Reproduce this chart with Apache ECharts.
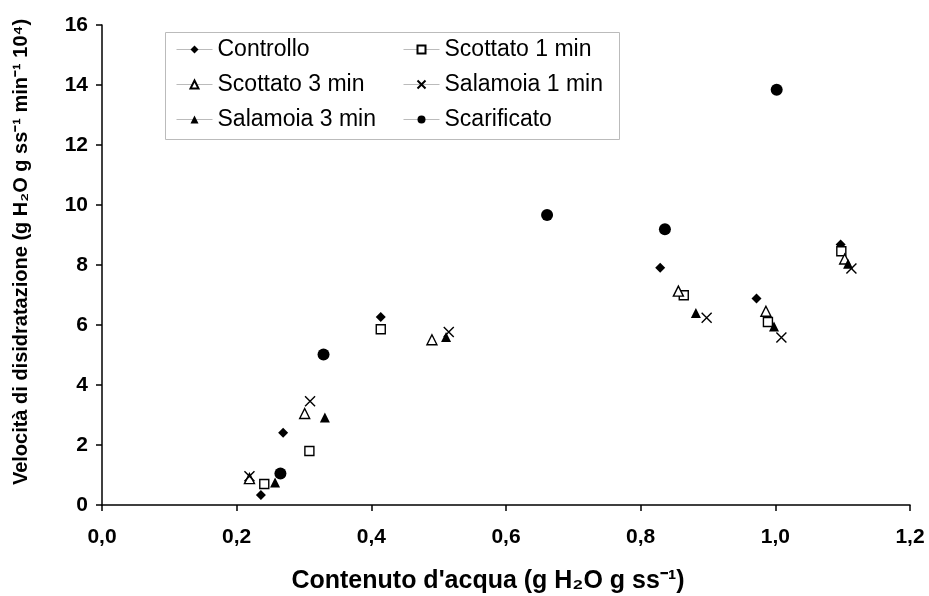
<!DOCTYPE html>
<html>
<head>
<meta charset="utf-8">
<script src="https://cdn.jsdelivr.net/npm/echarts@6/dist/echarts.min.js"></script>
<style>
  html, body { margin: 0; padding: 0; background: #fff; }
  #chart { width: 929px; height: 596px; }
</style>
</head>
<body>
<div id="chart"></div>
<script>
// contenuto d'acqua (x) e velocità (y) per ogni trattamento
var controllo = [[0.236, 0.33], [0.269, 2.41], [0.414, 6.27], [0.829, 7.91], [0.972, 6.88], [1.097, 8.68]];
var scottato1 = [[0.241, 0.70], [0.308, 1.80], [0.414, 5.86], [0.864, 6.99], [0.989, 6.10], [1.098, 8.46]];
var scottato3 = [[0.219, 0.88], [0.301, 3.05], [0.490, 5.51], [0.856, 7.13], [0.986, 6.46], [1.103, 8.20]];
var salamoia1 = [[0.219, 0.96], [0.309, 3.46], [0.515, 5.77], [0.898, 6.24], [1.009, 5.58], [1.113, 7.88]];
var salamoia3 = [[0.257, 0.75], [0.331, 2.92], [0.511, 5.60], [0.882, 6.40], [0.998, 5.95], [1.108, 8.04]];
var scarificato = [[0.265, 1.05], [0.329, 5.02], [0.661, 9.67], [0.836, 9.19], [1.002, 13.84]];

var legendLeft = ['Controllo', 'Scottato 3 min', 'Salamoia 3 min'];
var legendRight = ['Scottato 1 min', 'Salamoia 1 min', 'Scarificato'];

var chart = echarts.init(document.getElementById('chart'));
var font = 'Liberation Sans, Arial, sans-serif';

function makeSeries(name, data, symbol, size, filled) {
    return {
        name: name,
        type: 'line',
        data: data,
        symbol: symbol,
        symbolSize: size,
        showSymbol: true,
        lineStyle: {opacity: 0},
        itemStyle: filled ? {color: '#000'} : {color: '#fff', borderColor: '#000', borderWidth: 1.4},
        emphasis: {disabled: true},
        z: 3
    };
}

var crossPath = 'path://M0,0L10,10M10,0L0,10';

var legendBase = {
    orient: 'vertical',
    top: 33,
    itemWidth: 36,
    itemHeight: 10,
    itemGap: 12,
    textStyle: {fontFamily: font, fontSize: 23, color: '#000'},
    lineStyle: {color: '#bbb', width: 1, opacity: 1},
    selectedMode: false
};

var option = {
    animation: false,
    grid: {left: 102, right: 19, top: 25, bottom: 91, outerBoundsMode: 'none'},
    legend: [
        Object.assign({}, legendBase, {left: 171, data: legendLeft}),
        Object.assign({}, legendBase, {left: 398, data: legendRight})
    ],
    graphic: [{
        type: 'rect',
        left: 163, top: 30,
        shape: {width: 454, height: 107},
        style: {fill: 'none', stroke: '#bbb', lineWidth: 1},
        z: 1
    }],
    xAxis: {
        type: 'value',
        min: 0, max: 1.2, interval: 0.2,
        name: "Contenuto d'acqua (g H\u2082O g ss\u207B\u00B9)",
        nameLocation: 'middle',
        nameGap: 64,
        nameTextStyle: {fontFamily: font, fontSize: 25, fontWeight: 'bold', color: '#000', padding: [0, 36, 0, 0]},
        axisLine: {lineStyle: {color: '#000', width: 1.5}},
        axisTick: {show: true, length: 6, lineStyle: {color: '#000', width: 1.5}},
        axisLabel: {
            fontFamily: font, fontSize: 21, fontWeight: 'bold', color: '#000', margin: 22,
            formatter: function (v) { return v.toFixed(1).replace('.', ','); }
        },
        splitLine: {show: false}
    },
    yAxis: {
        type: 'value',
        min: 0, max: 16, interval: 2,
        name: 'Velocit\u00E0 di disidratazione (g H\u2082O g ss\u207B\u00B9 min\u207B\u00B9 10\u2074)',
        nameLocation: 'middle',
        nameGap: 71,
        nameRotate: 90,
        nameTextStyle: {fontFamily: font, fontSize: 20, fontWeight: 'bold', color: '#000', padding: [0, 0, 0, 26]},
        axisLine: {show: true, lineStyle: {color: '#000', width: 1.5}},
        axisTick: {show: true, length: 6, lineStyle: {color: '#000', width: 1.5}},
        axisLabel: {fontFamily: font, fontSize: 21, fontWeight: 'bold', color: '#000', margin: 14},
        splitLine: {show: false}
    },
    series: [
        makeSeries('Controllo', controllo, 'diamond', 10, true),
        makeSeries('Scottato 1 min', scottato1, 'rect', 9, false),
        makeSeries('Scottato 3 min', scottato3, 'triangle', 10, false),
        Object.assign(makeSeries('Salamoia 1 min', salamoia1, crossPath, 10, false),
            {itemStyle: {color: 'none', borderColor: '#000', borderWidth: 1.4}}),
        makeSeries('Salamoia 3 min', salamoia3, 'triangle', 10, true),
        makeSeries('Scarificato', scarificato, 'circle', 12, true)
    ]
};

chart.setOption(option);
</script>
</body>
</html>
